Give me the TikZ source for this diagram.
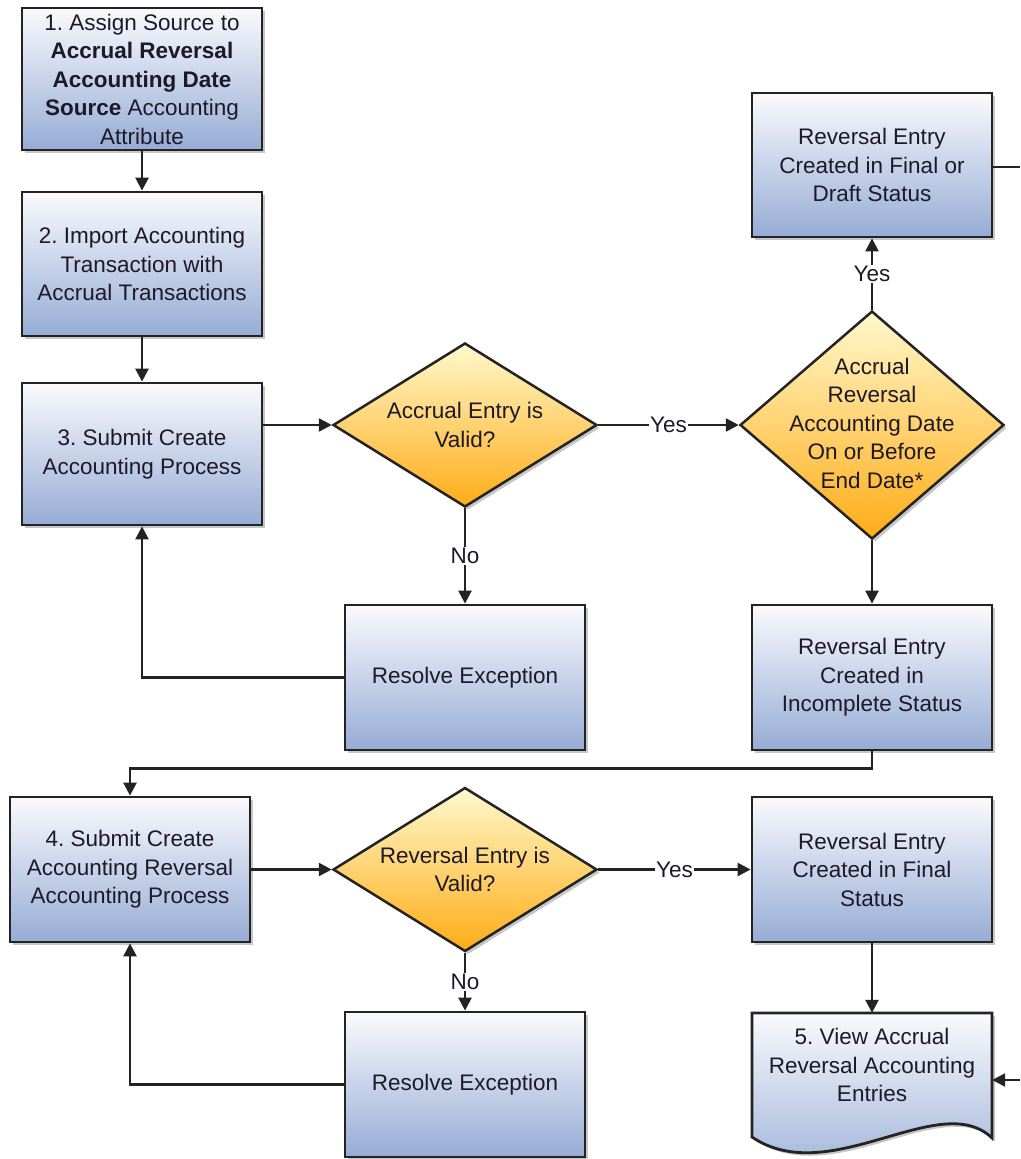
\documentclass[tikz,border=0pt]{standalone}
\usepackage{fontspec}
\setmainfont{Liberation Sans}
\usetikzlibrary{shapes.geometric,arrows.meta,shadows,calc}
\definecolor{boxtop}{RGB}{250,250,253}
\definecolor{boxbot}{RGB}{150,172,213}
\definecolor{diatop}{RGB}{255,249,205}
\definecolor{diabot}{RGB}{255,172,22}
\definecolor{txtcol}{RGB}{30,25,40}
\definecolor{edgecol}{RGB}{35,35,35}
\newcommand\dfont{\fontsize{22.5}{28.5}\selectfont\frenchspacing}
\frenchspacing
\begin{document}
\begin{tikzpicture}[x=1pt,y=-1pt,
  myshadow/.style={drop shadow={shadow xshift=3pt,shadow yshift=-3pt,fill=black!40,opacity=0.55}},
  box/.style={draw=edgecol, line width=2.8pt, minimum width=240pt, minimum height=143pt,
    top color=boxtop, bottom color=boxbot, align=center, inner sep=0pt,
    font=\dfont, text=txtcol, myshadow},
  dia/.style={diamond, draw=edgecol, line width=2.5pt, minimum width=264pt, minimum height=164pt,
    top color=diatop, bottom color=diabot, inner sep=0pt, myshadow},
  txt/.style={align=center, font=\dfont, text=txtcol, inner sep=0pt},
  arr/.style={line width=2.5pt, draw=edgecol, -{Triangle[length=13pt,width=13pt]}},
  ln/.style={line width=2.5pt, draw=edgecol},
  lbl/.style={fill=white, inner sep=1pt, font=\dfont, text=txtcol}
]
\useasboundingbox (0,0) rectangle (1020,1159);

% left column
\node[box, minimum height=142pt] (b1) at (142,79) {1. Assign Source to\\\textbf{Accrual Reversal}\\\textbf{Accounting Date}\\\textbf{Source} Accounting\\Attribute};
\node[box, minimum height=144pt] (b2) at (142,264) {2. Import Accounting\\Transaction with\\Accrual Transactions};
\node[box, minimum height=142pt] (b3) at (142,454) {3. Submit Create\\Accounting Process};

% decision 1
\node[dia] (d1) at (465,425) {};
\node[txt] (d1t) at (465,425) {Accrual Entry is\\Valid?};
\node[box, minimum height=145pt] (r1) at (465,677.5) {Resolve Exception};

% right column top
\node[box, minimum height=144pt] (f1) at (872,165) {Reversal Entry\\Created in Final or\\Draft Status};
\node[dia, minimum height=228pt] (d2) at (872,425) {};
\node[txt] (d2t) at (872,423) {Accrual\\Reversal\\Accounting Date\\On or Before\\End Date*};
\node[box, minimum height=145pt] (inc) at (872,677.5) {Reversal Entry\\Created in\\Incomplete Status};

% lower row
\node[box, minimum height=145pt] (b4) at (130,869.5) {4. Submit Create\\Accounting Reversal\\Accounting Process};
\node[dia] (d3) at (465,869.5) {};
\node[txt] (d3t) at (465,869.5) {Reversal Entry is\\Valid?};
\node[box, minimum height=145pt] (r2) at (465,1084.5) {Resolve Exception};
\node[box, minimum height=145pt] (fin) at (872,869.5) {Reversal Entry\\Created in Final\\Status};

% document shape
\path[draw=edgecol, line width=2.8pt, top color=boxtop, bottom color=boxbot, myshadow]
  (752,1013) -- (992,1013) -- (992,1138)
  .. controls (940,1088) and (830,1190) .. (752,1137) -- cycle;
\node[txt, minimum width=240pt, minimum height=104pt] (doc) at (872,1065) {5. View Accrual\\Reversal Accounting\\Entries};

% connectors
\draw[arr] (b1.south) -- (b2.north);
\draw[arr] (b2.south) -- (b3.north);
\draw[arr] (b3.east |- d1.west) -- (d1.west);
\draw[arr] (d1.east) -- node[lbl] {Yes} (d2.west);
\draw[arr] (d1.south) -- node[lbl] {No} (r1.north);
\draw[arr] (r1.west) -| (b3.south);
\draw[arr] (d2.north) -- node[lbl] {Yes} (f1.south);
\draw[arr] (d2.south) -- (inc.north);
\draw[arr] (inc.south) -- ++(0,17) -| (b4.north);
\draw[arr] (b4.east) -- (d3.west);
\draw[arr] (d3.east) -- node[lbl] {Yes} (fin.west);
\draw[arr] (d3.south) -- node[lbl] {No} (r2.north);
\draw[arr] (r2.west) -| (b4.south);
\draw[arr] (fin.south) -- (doc.north);
\coordinate (e1) at (1020,167);
\coordinate (e2) at (1020,1080);
\draw[ln] (f1.east |- e1) -- (e1);
\draw[arr] (e2) -- (e2 -| doc.east);
\end{tikzpicture}
\end{document}
